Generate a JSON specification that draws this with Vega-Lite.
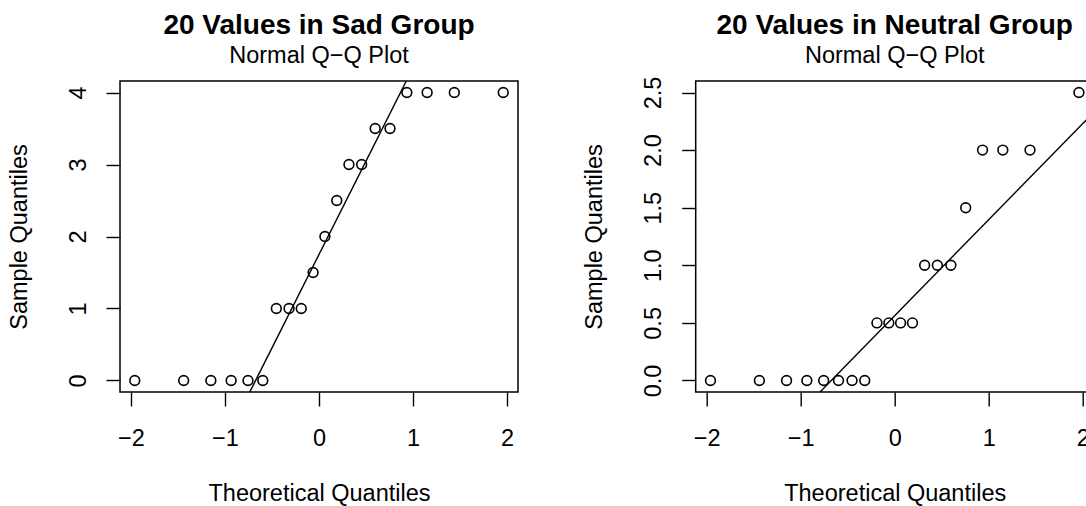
{
  "$schema": "https://vega.github.io/schema/vega-lite/v6.json",
  "background": "white",
  "padding": {"left": 6, "top": 10, "right": 0, "bottom": 0},
  "spacing": 177.7,
  "bounds": "flush",
  "config": {
    "font": "Liberation Sans",
    "view": {"stroke": "black", "strokeWidth": 1.5},
    "axis": {"grid": false, "domain": false, "tickColor": "black", "tickWidth": 1.4, "tickSize": 14, "labelColor": "black", "labelFontSize": 23.5, "labelFont": "Liberation Sans", "titleFont": "Liberation Sans", "titleFontSize": 23.5, "titleFontWeight": "normal", "titleColor": "black", "labelFlush": false, "labelOverlap": false},
    "title": {"font": "Liberation Sans", "fontSize": 28, "fontWeight": "bold", "color": "black", "subtitleFont": "Liberation Sans", "subtitleFontSize": 23.5, "subtitleColor": "black", "subtitlePadding": 4.5, "anchor": "middle", "frame": "group", "offset": 13.5}
  },
  "datasets": {
    "sad": [
      {"x": -1.959964, "y": 0}, {"x": -1.439531, "y": 0}, {"x": -1.150349, "y": 0}, {"x": -0.934589, "y": 0},
      {"x": -0.755415, "y": 0}, {"x": -0.597760, "y": 0}, {"x": -0.453762, "y": 1}, {"x": -0.318639, "y": 1},
      {"x": -0.189118, "y": 1}, {"x": -0.062707, "y": 1.5}, {"x": 0.062707, "y": 2}, {"x": 0.189118, "y": 2.5},
      {"x": 0.318639, "y": 3}, {"x": 0.453762, "y": 3}, {"x": 0.597760, "y": 3.5}, {"x": 0.755415, "y": 3.5},
      {"x": 0.934589, "y": 4}, {"x": 1.150349, "y": 4}, {"x": 1.439531, "y": 4}, {"x": 1.959964, "y": 4}
    ],
    "neutral": [
      {"x": -1.959964, "y": 0}, {"x": -1.439531, "y": 0}, {"x": -1.150349, "y": 0}, {"x": -0.934589, "y": 0},
      {"x": -0.755415, "y": 0}, {"x": -0.597760, "y": 0}, {"x": -0.453762, "y": 0}, {"x": -0.318639, "y": 0},
      {"x": -0.189118, "y": 0.5}, {"x": -0.062707, "y": 0.5}, {"x": 0.062707, "y": 0.5}, {"x": 0.189118, "y": 0.5},
      {"x": 0.318639, "y": 1}, {"x": 0.453762, "y": 1}, {"x": 0.597760, "y": 1}, {"x": 0.755415, "y": 1.5},
      {"x": 0.934589, "y": 2}, {"x": 1.150349, "y": 2}, {"x": 1.439531, "y": 2}, {"x": 1.959964, "y": 2.5}
    ],
    "sadline": [{"x": -2.117, "y": -3.7427}, {"x": 2.117, "y": 7.2427}],
    "neutralline": [{"x": -2.117, "y": -1.20301}, {"x": 2.117, "y": 2.32801}]
  },
  "hconcat": [
    {
      "width": 398, "height": 311,
      "title": {"text": "20 Values in Sad Group", "subtitle": "Normal Q−Q Plot"},
      "layer": [
        {
          "data": {"name": "sadline"},
          "mark": {"type": "line", "color": "black", "strokeWidth": 1.4, "clip": true},
          "encoding": {
            "x": {"field": "x", "type": "quantitative", "scale": {"domain": [-2.117, 2.117], "nice": false, "zero": false}},
            "y": {"field": "y", "type": "quantitative", "scale": {"domain": [-0.16, 4.16], "nice": false, "zero": false}}
          }
        },
        {
          "data": {"name": "sad"},
          "mark": {"type": "point", "shape": "circle", "filled": false, "color": "black", "size": 95, "strokeWidth": 1.6, "opacity": 1},
          "encoding": {
            "x": {"field": "x", "type": "quantitative", "scale": {"domain": [-2.117, 2.117], "nice": false, "zero": false},
              "axis": {"values": [-2, -1, 0, 1, 2], "format": "d", "title": "Theoretical Quantiles", "labelPadding": 39.5, "labelBaseline": "alphabetic", "titleY": 108.5, "titleX": 199, "titleBaseline": "alphabetic", "titleAlign": "center"}},
            "y": {"field": "y", "type": "quantitative", "scale": {"domain": [-0.16, 4.16], "nice": false, "zero": false},
              "axis": {"values": [0, 1, 2, 3, 4], "format": "d", "title": "Sample Quantiles", "labelAngle": -90, "labelAlign": "center", "labelBaseline": "alphabetic", "labelPadding": 21, "titleAngle": -90, "titleX": -94, "titleY": 155.5, "titleBaseline": "alphabetic", "titleAlign": "center"}}
          }
        }
      ]
    },
    {
      "width": 398, "height": 311,
      "title": {"text": "20 Values in Neutral Group", "subtitle": "Normal Q−Q Plot", "dy": 5},
      "layer": [
        {
          "data": {"name": "neutralline"},
          "mark": {"type": "line", "color": "black", "strokeWidth": 1.4, "clip": true},
          "encoding": {
            "x": {"field": "x", "type": "quantitative", "scale": {"domain": [-2.117, 2.117], "nice": false, "zero": false}},
            "y": {"field": "y", "type": "quantitative", "scale": {"domain": [-0.1, 2.6], "nice": false, "zero": false}}
          }
        },
        {
          "data": {"name": "neutral"},
          "mark": {"type": "point", "shape": "circle", "filled": false, "color": "black", "size": 95, "strokeWidth": 1.6, "opacity": 1},
          "encoding": {
            "x": {"field": "x", "type": "quantitative", "scale": {"domain": [-2.117, 2.117], "nice": false, "zero": false},
              "axis": {"values": [-2, -1, 0, 1, 2], "format": "d", "title": "Theoretical Quantiles", "labelPadding": 39.5, "labelBaseline": "alphabetic", "titleY": 108.5, "titleX": 199, "titleBaseline": "alphabetic", "titleAlign": "center"}},
            "y": {"field": "y", "type": "quantitative", "scale": {"domain": [-0.1, 2.6], "nice": false, "zero": false},
              "axis": {"values": [0, 0.5, 1, 1.5, 2, 2.5], "format": ".1f", "title": "Sample Quantiles", "labelAngle": -90, "labelAlign": "center", "labelBaseline": "alphabetic", "labelPadding": 21, "titleAngle": -90, "titleX": -94, "titleY": 155.5, "titleBaseline": "alphabetic", "titleAlign": "center"}}
          }
        }
      ]
    }
  ]
}
